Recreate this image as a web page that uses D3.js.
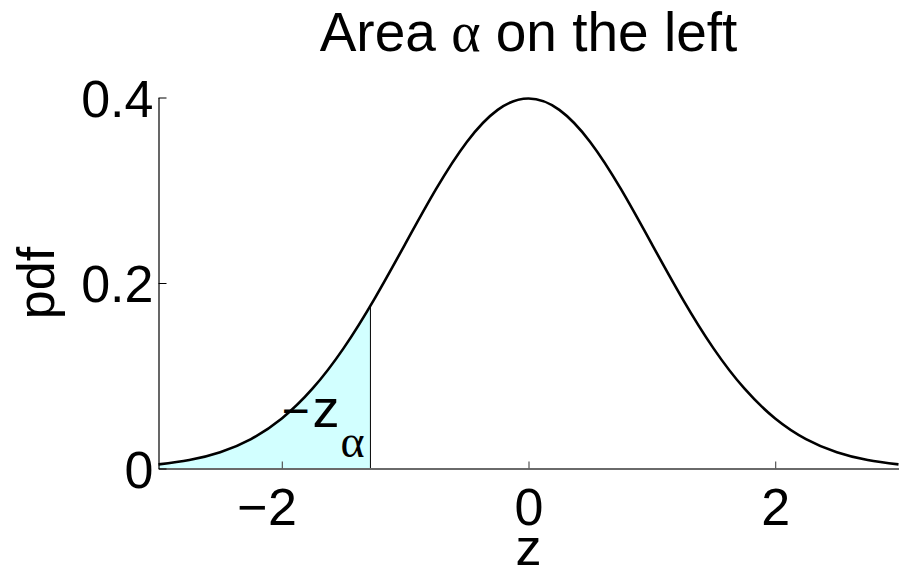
<!DOCTYPE html>
<html>
<head>
<meta charset="utf-8">
<script src="https://cdn.jsdelivr.net/npm/d3@7/dist/d3.min.js"></script>
<style>
  html, body { margin: 0; padding: 0; background: #fff; }
  svg { display: block; }
  text { font-family: "Liberation Sans", Arial, Helvetica, sans-serif; fill: #000; }
  .greek { font-family: "Liberation Serif", "Times New Roman", serif; fill: #000; }
</style>
</head>
<body>
<svg id="chart" width="900" height="571"></svg>
<script>
// Standard normal density sampled at z = -3 … 3 (step 0.25)
const zValues = [-3, -2.75, -2.5, -2.25, -2, -1.75, -1.5, -1.25, -1, -0.75, -0.5, -0.25,
                 0, 0.25, 0.5, 0.75, 1, 1.25, 1.5, 1.75, 2, 2.25, 2.5, 2.75, 3];
const pdfValues = [0.004432, 0.009094, 0.017528, 0.031740, 0.053991, 0.086277, 0.129518, 0.182649,
                   0.241971, 0.301137, 0.352065, 0.386668, 0.398942, 0.386668, 0.352065, 0.301137,
                   0.241971, 0.182649, 0.129518, 0.086277, 0.053991, 0.031740, 0.017528, 0.009094, 0.004432];

// Critical value -z_alpha and the density there
const cutoffZ = [-1.2816];
const cutoffPdf = [0.17550];

// Axis ticks
const xTicks = [-2, 0, 2];
const yTicks = [0, 0.2, 0.4];
const yTickLabels = ["0", "0.2", "0.4"];

const svg = d3.select("#chart");

const x = d3.scaleLinear().domain([-3, 3]).range([158.5, 898.5]);
const y = d3.scaleLinear().domain([0, 0.4]).range([468.5, 97.5]);

const pts = zValues.map((z, i) => ({ z, p: pdfValues[i] }));

// Shaded lower tail, clipped at the critical value
svg.append("clipPath").attr("id", "tail")
  .append("rect")
  .attr("x", x(-3)).attr("y", 0)
  .attr("width", x(cutoffZ[0]) - x(-3)).attr("height", 571);

svg.append("path")
  .datum(pts)
  .attr("clip-path", "url(#tail)")
  .attr("fill", "#d2ffff")
  .attr("d", d3.area().x(d => x(d.z)).y0(y(0)).y1(d => y(d.p)).curve(d3.curveNatural));

// Vertical edge of the shaded tail
svg.append("line")
  .attr("x1", x(cutoffZ[0])).attr("x2", x(cutoffZ[0]))
  .attr("y1", y(0)).attr("y2", y(cutoffPdf[0]))
  .attr("stroke", "#000").attr("stroke-width", 1);

// Density curve
svg.append("path")
  .datum(pts)
  .attr("fill", "none")
  .attr("stroke", "#000")
  .attr("stroke-width", 2.6)
  .attr("d", d3.line().x(d => x(d.z)).y(d => y(d.p)).curve(d3.curveNatural));

// Bottom axis with inward ticks
const gx = svg.append("g")
  .attr("transform", `translate(0,${y(0)})`)
  .call(d3.axisBottom(x).tickValues(xTicks).tickSize(-7).tickSizeOuter(0)
    .tickFormat(d => String(Math.abs(d))).tickPadding(0));
gx.select(".domain").attr("stroke", "#6a6a6a").attr("stroke-width", 2);
gx.selectAll(".tick line").attr("stroke", "#555").attr("stroke-width", 1.2);
gx.selectAll(".tick text")
  .attr("font-size", 52).attr("font-family", null)
  .attr("y", 56).attr("dy", 0);
// Negative labels: the minus sign hangs to the left of the centred digits
gx.selectAll(".tick").filter(d => d < 0)
  .append("text")
  .attr("text-anchor", "end")
  .attr("x", -15).attr("y", 56)
  .attr("font-size", 52)
  .attr("fill", "#000")
  .text("\u2212");

// Left axis with inward ticks
const gy = svg.append("g")
  .attr("transform", `translate(${x(-3)},0)`)
  .call(d3.axisLeft(y).tickValues(yTicks).tickSize(-8).tickSizeOuter(0)
    .tickFormat((d, i) => yTickLabels[i]).tickPadding(6));
gy.select(".domain").attr("stroke", "#000").attr("stroke-width", 1.2);
gy.selectAll(".tick line").attr("stroke", "#000");
gy.selectAll(".tick text")
  .attr("font-size", 52).attr("font-family", null)
  .attr("x", -5).attr("dy", "0.36em");

// Title
const title = svg.append("text")
  .attr("x", x(0)).attr("y", 51)
  .attr("text-anchor", "middle")
  .attr("font-size", 55);
title.append("tspan").text("Area ");
title.append("tspan").attr("class", "greek").attr("font-size", 56).text("\u03b1");
title.append("tspan").text(" on the left");

// Axis labels
svg.append("text")
  .attr("x", x(0)).attr("y", 565)
  .attr("text-anchor", "middle")
  .attr("font-size", 52)
  .text("z");

svg.append("text")
  .attr("transform", `translate(54,${y(0.2)}) rotate(-90)`)
  .attr("text-anchor", "middle")
  .attr("font-size", 52)
  .text("pdf");

// -z_alpha annotation
const ann = svg.append("text")
  .attr("x", x(cutoffZ[0]) - 89).attr("y", 427)
  .attr("font-size", 54);
ann.append("tspan").attr("font-size", 48).text("\u2212");
ann.append("tspan").attr("dx", 3).text("z");
ann.append("tspan").attr("class", "greek")
  .attr("font-size", 46).attr("dy", 30).attr("dx", 1)
  .text("\u03b1");
</script>
</body>
</html>
